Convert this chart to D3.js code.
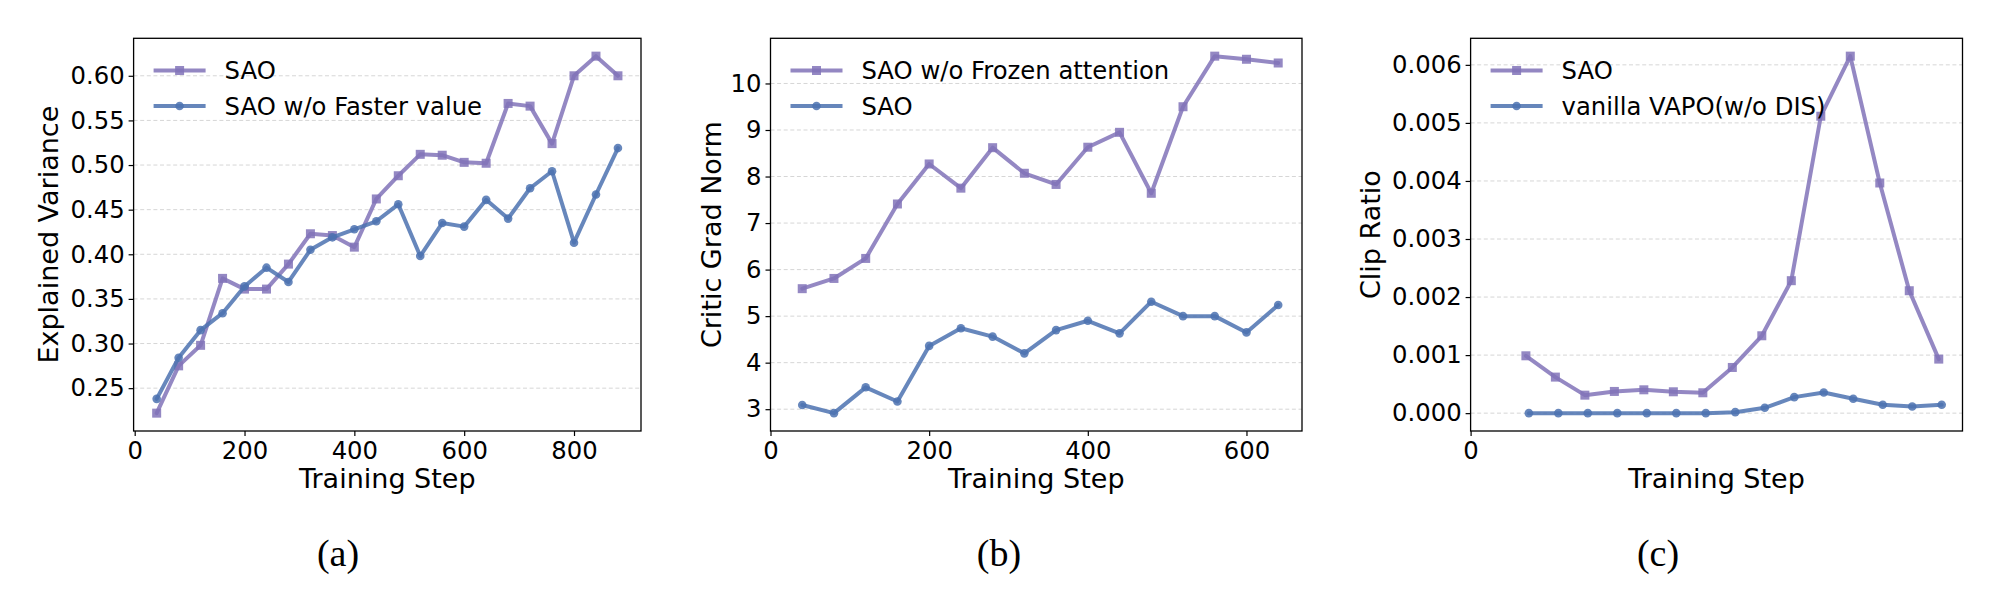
<!DOCTYPE html>
<html>
<head>
<meta charset="utf-8">
<script src="https://cdn.jsdelivr.net/npm/d3@7"></script>
<style>
  html, body { margin: 0; padding: 0; background: #fff; }
  svg { display: block; }
</style>
</head>
<body>
<svg id="chart" width="2000" height="605"></svg>
<script>
// ---------------- DATA ----------------
// Panel (a): Explained Variance
const stepsA = [40,80,120,160,200,240,280,320,360,400,440,480,520,560,600,640,680,720,760,800,840,880];
const saoA = [0.222,0.275,0.298,0.373,0.361,0.361,0.389,0.423,0.421,0.408,0.462,0.488,0.512,0.511,0.503,0.502,0.569,0.566,0.524,0.600,0.622,0.600];
const fasterA = [0.238,0.284,0.315,0.334,0.364,0.385,0.369,0.405,0.419,0.428,0.437,0.456,0.398,0.435,0.431,0.461,0.440,0.474,0.493,0.413,0.467,0.519];
const labelsA = ["SAO", "SAO w/o Faster value"];
const yTicksA = [0.25,0.30,0.35,0.40,0.45,0.50,0.55,0.60];
const xTicksA = [0,200,400,600,800];

// Panel (b): Critic Grad Norm
const stepsB = [40,80,120,160,200,240,280,320,360,400,440,480,520,560,600,640];
const frozenB = [5.59,5.81,6.24,7.41,8.27,7.75,8.62,8.07,7.83,8.63,8.95,7.64,9.50,10.587,10.52,10.44];
const saoB = [3.09,2.915,3.47,3.165,4.36,4.74,4.56,4.20,4.70,4.90,4.63,5.31,5.00,5.00,4.65,5.24];
const labelsB = ["SAO w/o Frozen attention", "SAO"];
const yTicksB = [3,4,5,6,7,8,9,10];
const xTicksB = [0,200,400,600];

// Panel (c): Clip Ratio
const stepsC1 = [75,115,155,195,235,275,315,355,395,435,475,515,555,595,635];
const stepsC2 = [79,119,159,199,239,279,319,359,399,439,479,519,559,599,639];
const saoC = [0.000988,0.000621,0.000310,0.000374,0.000402,0.000368,0.000351,0.000787,0.001333,0.002282,0.005115,0.00615,0.003965,0.002109,0.000931];
const vanillaC = [0,0,0,0,0,0,0,0.000017,0.000092,0.000276,0.000356,0.000247,0.000144,0.000115,0.000144];
const labelsC = ["SAO", "vanilla VAPO(w/o DIS)"];
const yTicksC = [0,0.001,0.002,0.003,0.004,0.005,0.006];
const xTicksC = [0];

const subCaptions = ["(a)", "(b)", "(c)"];
const yTitles = ["Explained Variance", "Critic Grad Norm", "Clip Ratio"];
const xTitle = "Training Step";

// ---------------- STYLE ----------------
const PURPLE = "#8173b8";
const BLUE = "#4c72b0";
const FONT = "'DejaVu Sans', sans-serif";

const svg = d3.select("#chart");

function margined(vals) {
  const mn = d3.min(vals), mx = d3.max(vals);
  const m = (mx - mn) * 0.05;
  return [mn - m, mx + m];
}
function marginedZero(vals) {
  const mn = d3.min(vals), mx = d3.max(vals);
  return [0, mx + (mx - mn) * 0.05];
}

const panels = [
  {
    box: {l: 133.6, r: 641, t: 38.3, b: 431},
    xDom: margined(stepsA),
    yDom: margined(saoA.concat(fasterA)),
    series: [
      {x: stepsA, y: saoA, color: PURPLE, marker: "square"},
      {x: stepsA, y: fasterA, color: BLUE, marker: "circle"}
    ],
    labels: labelsA, yTicks: yTicksA, xTicks: xTicksA, yFmt: d3.format(".2f"),
    yTitle: yTitles[0], yTitleX: 58, cap: subCaptions[0], capX: 338
  },
  {
    box: {l: 770.5, r: 1302, t: 38.3, b: 431},
    xDom: marginedZero(stepsB),
    yDom: margined(frozenB.concat(saoB)),
    series: [
      {x: stepsB, y: frozenB, color: PURPLE, marker: "square"},
      {x: stepsB, y: saoB, color: BLUE, marker: "circle"}
    ],
    labels: labelsB, yTicks: yTicksB, xTicks: xTicksB, yFmt: d3.format("d"),
    yTitle: yTitles[1], yTitleX: 721, cap: subCaptions[1], capX: 999
  },
  {
    box: {l: 1470.6, r: 1962.5, t: 38.3, b: 431},
    xDom: marginedZero(stepsC1.concat(stepsC2)),
    yDom: margined(saoC.concat(vanillaC)),
    series: [
      {x: stepsC1, y: saoC, color: PURPLE, marker: "square"},
      {x: stepsC2, y: vanillaC, color: BLUE, marker: "circle"}
    ],
    labels: labelsC, yTicks: yTicksC, xTicks: xTicksC, yFmt: d3.format(".3f"),
    yTitle: yTitles[2], yTitleX: 1380, cap: subCaptions[2], capX: 1658
  }
];

function drawMarker(g, type, cx, cy, color) {
  if (type === "square") {
    g.append("rect")
      .attr("x", cx - 4.5).attr("y", cy - 4.5)
      .attr("width", 9).attr("height", 9)
      .attr("fill", color).attr("opacity", 0.85);
  } else {
    g.append("circle")
      .attr("cx", cx).attr("cy", cy).attr("r", 4.3)
      .attr("fill", color).attr("opacity", 0.85);
  }
}

panels.forEach(p => {
  const {l, r, t, b} = p.box;
  const x = d3.scaleLinear().domain(p.xDom).range([l, r]);
  const y = d3.scaleLinear().domain(p.yDom).range([b, t]);
  const g = svg.append("g");

  // grid
  g.append("g").selectAll("line").data(p.yTicks).join("line")
    .attr("x1", l).attr("x2", r)
    .attr("y1", d => y(d)).attr("y2", d => y(d))
    .attr("stroke", "#d6d6d6").attr("stroke-width", 1)
    .attr("stroke-dasharray", "4,2.6");

  // series
  p.series.forEach(s => {
    const pts = s.x.map((xv, i) => [x(xv), y(s.y[i])]);
    g.append("path")
      .attr("d", d3.line()(pts))
      .attr("fill", "none")
      .attr("stroke", s.color)
      .attr("stroke-width", 4)
      .attr("stroke-linejoin", "round")
      .attr("stroke-linecap", "round")
      .attr("opacity", 0.85);
    const mg = g.append("g");
    pts.forEach(pt => drawMarker(mg, s.marker, pt[0], pt[1], s.color));
  });

  // axes
  const yAxis = d3.axisLeft(y).tickValues(p.yTicks).tickFormat(p.yFmt).tickSizeOuter(0).tickSize(5).tickPadding(4);
  const yg = g.append("g").attr("transform", `translate(${l},0)`).call(yAxis);
  const xAxis = d3.axisBottom(x).tickValues(p.xTicks).tickFormat(d3.format("d")).tickSizeOuter(0).tickSize(5).tickPadding(4);
  const xg = g.append("g").attr("transform", `translate(0,${b})`).call(xAxis);
  [yg, xg].forEach(ag => {
    ag.select(".domain").remove();
    ag.selectAll(".tick line").attr("stroke", "#000").attr("stroke-width", 1.2);
    ag.selectAll(".tick text").attr("font-family", FONT).attr("font-size", 24.3).attr("fill", "#000");
  });
  xg.selectAll(".tick text").attr("dy", null).attr("y", 28).attr("dominant-baseline", "alphabetic");

  // frame
  g.append("rect").attr("x", l).attr("y", t).attr("width", r - l).attr("height", b - t)
    .attr("fill", "none").attr("stroke", "#000").attr("stroke-width", 1.3);

  // titles
  g.append("text").attr("x", (l + r) / 2).attr("y", 488)
    .attr("text-anchor", "middle").attr("font-family", FONT).attr("font-size", 27)
    .text(xTitle);
  g.append("text")
    .attr("transform", `translate(${p.yTitleX},${(t + b) / 2}) rotate(-90)`)
    .attr("text-anchor", "middle").attr("font-family", FONT).attr("font-size", 27)
    .text(p.yTitle);

  // legend
  const rows = [70.5, 106];
  p.series.forEach((s, i) => {
    const ly = rows[i];
    g.append("line").attr("x1", l + 20).attr("x2", l + 72).attr("y1", ly).attr("y2", ly)
      .attr("stroke", s.color).attr("stroke-width", 4).attr("opacity", 0.85);
    drawMarker(g, s.marker, l + 46, ly, s.color);
    g.append("text").attr("x", l + 91).attr("y", ly + 8.7)
      .attr("font-family", FONT).attr("font-size", 24.3).text(p.labels[i]);
  });

  // sub-caption
  g.append("text").attr("x", p.capX).attr("y", 566)
    .attr("text-anchor", "middle").attr("font-family", "'Liberation Serif', 'Times New Roman', serif")
    .attr("font-size", 38).text(p.cap);
});
</script>
</body>
</html>
